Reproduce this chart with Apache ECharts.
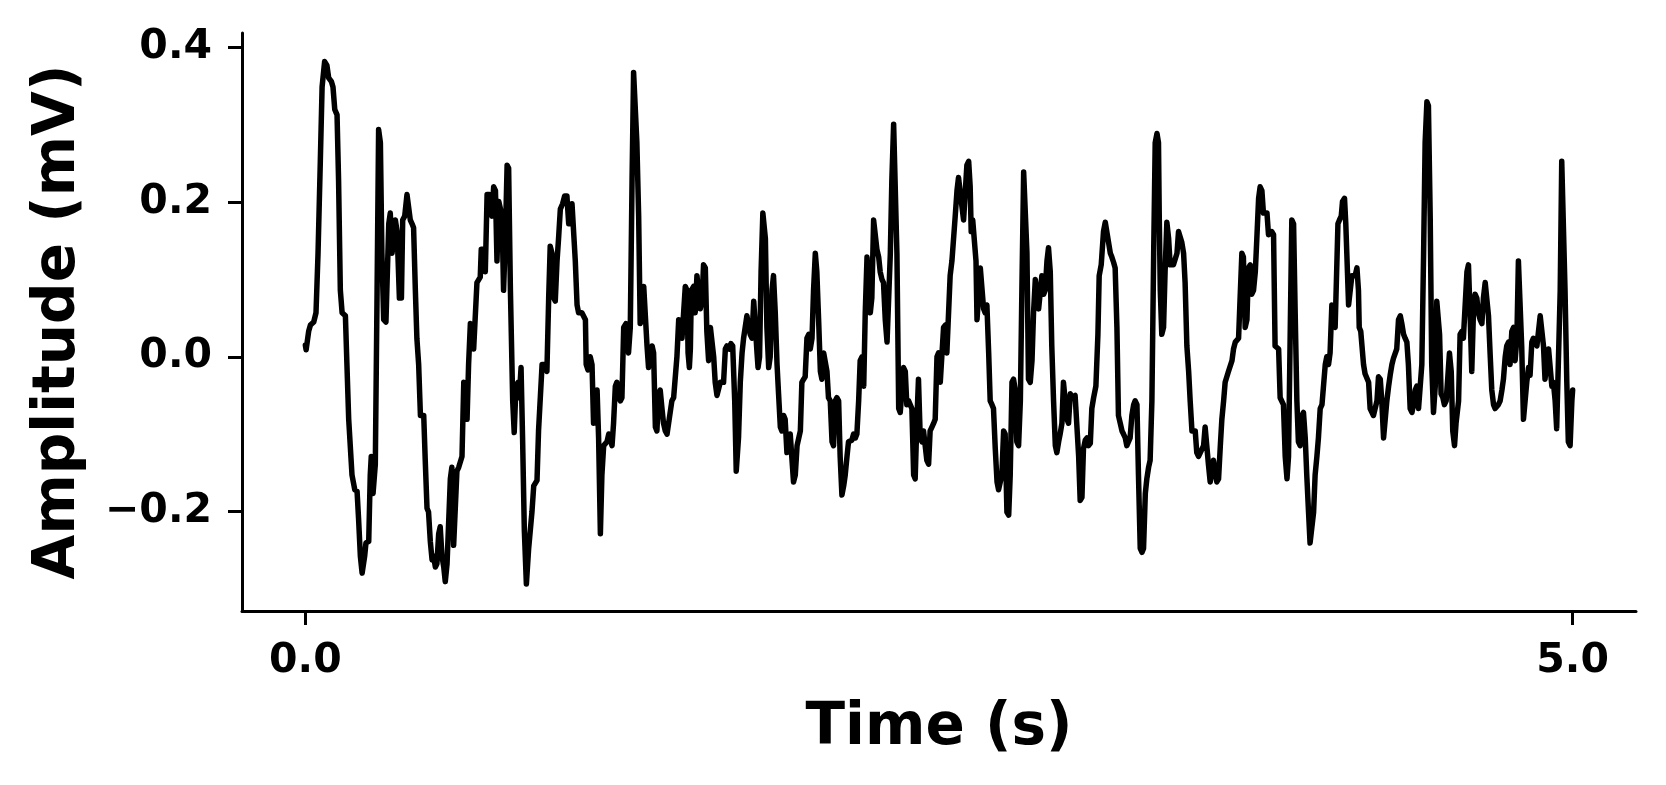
<!DOCTYPE html>
<html>
<head>
<meta charset="utf-8">
<title>Amplitude trace</title>
<script src="https://cdn.jsdelivr.net/npm/echarts@6/dist/echarts.min.js"></script>
<style>
  html, body { margin: 0; padding: 0; background: #fff; }
  #chart { width: 1666px; height: 785px; }
</style>
</head>
<body>
<div id="chart"></div>
<script>
// time (s) and amplitude (mV)
var times = [
  0.000,0.003,0.013,0.020,0.033,0.042,0.050,0.059,0.066,0.076,0.085,0.092,0.103,0.109,0.116,0.125,0.131,0.138,0.145,0.158,
  0.164,0.171,0.184,0.195,0.204,0.210,0.217,0.224,0.234,0.239,0.250,0.256,0.260,0.267,0.276,0.283,0.289,0.296,0.302,0.309,
  0.318,0.329,0.335,0.342,0.348,0.355,0.362,0.371,0.379,0.384,0.392,0.401,0.408,0.414,0.421,0.427,0.434,0.440,0.447,0.454,
  0.467,0.473,0.480,0.486,0.493,0.500,0.506,0.513,0.519,0.526,0.532,0.539,0.546,0.552,0.559,0.565,0.572,0.578,0.585,0.592,
  0.598,0.605,0.611,0.618,0.625,0.631,0.638,0.644,0.651,0.657,0.664,0.671,0.677,0.690,0.694,0.703,0.710,0.717,0.726,0.736,
  0.743,0.750,0.756,0.763,0.769,0.776,0.782,0.789,0.796,0.802,
  0.809,0.818,0.824,0.831,0.839,0.844,0.851,0.857,0.864,0.872,0.881,0.894,0.901,0.914,0.920,0.934,0.944,0.953,0.960,0.966,
  0.973,0.980,0.986,0.993,0.999,1.006,1.015,1.023,1.032,1.039,1.045,1.052,1.058,1.065,1.072,1.078,1.091,1.105,1.108,1.115,
  1.124,1.131,1.137,1.144,1.151,1.157,1.164,1.170,1.177,1.190,1.197,1.210,1.216,1.223,1.229,1.236,1.243,1.249,1.256,1.265,
  1.275,1.282,1.289,1.295,1.302,1.308,1.315,1.321,1.328,1.335,1.341,1.348,1.354,1.361,1.368,1.374,1.381,1.387,1.394,1.400,
  1.407,1.413,1.420,1.427,1.433,1.446,1.453,1.460,1.466,1.473,1.479,1.486,1.492,1.499,1.506,1.510,1.515,1.519,1.523,1.532,
  1.538,1.545,1.552,1.558,1.565,1.571,1.578,1.584,1.591,1.598,1.604,1.611,1.617,1.624,1.630,1.637,1.650,
  1.657,1.663,1.673,1.679,1.686,1.694,1.700,1.709,1.716,1.723,1.729,1.742,1.749,1.755,1.762,1.769,1.775,1.782,1.786,1.792,
  1.798,1.805,1.815,1.821,1.828,1.834,1.841,1.847,1.854,1.861,1.867,1.874,1.880,1.887,1.893,1.900,1.907,1.913,1.920,1.926,
  1.933,1.940,1.953,1.959,1.966,1.972,1.979,1.986,1.992,1.999,2.005,2.012,2.018,2.025,2.032,2.038,2.045,2.051,2.058,2.064,
  2.071,2.078,2.084,2.091,2.097,2.104,2.110,2.117,2.124,2.130,2.137,2.143,2.156,2.163,2.170,2.176,2.183,2.189,2.196,2.203,
  2.209,2.216,2.222,2.229,2.235,2.242,2.249,2.255,2.262,2.268,2.275,2.281,2.288,2.295,2.301,2.308,2.314,2.321,2.327,2.334,
  2.341,2.347,2.354,2.360,2.367,2.373,2.380,2.387,2.393,2.400,2.406,2.413,2.419,2.426,2.433,2.439,2.446,2.452,2.459,2.465,
  2.472,2.479,
  2.485,2.492,2.498,2.505,2.512,2.518,2.525,2.531,2.538,2.544,2.551,2.558,2.564,2.571,2.577,2.584,2.590,2.597,2.604,2.610,
  2.617,2.623,2.627,2.633,2.640,2.646,2.650,2.656,2.663,2.669,2.676,2.682,2.689,2.696,2.702,2.709,2.715,2.722,2.729,2.735,
  2.742,2.748,2.755,2.761,2.768,2.775,2.781,2.788,2.794,2.801,2.807,2.814,2.821,2.827,2.834,2.840,2.847,2.853,2.860,2.867,
  2.873,2.880,2.886,2.893,2.899,2.906,2.913,2.919,2.926,2.932,2.939,2.945,2.952,2.959,2.965,2.972,2.978,2.985,2.991,2.998,
  3.005,3.011,3.018,3.024,3.031,3.037,3.044,3.051,3.057,3.064,3.070,3.077,3.084,3.090,3.097,3.103,3.110,3.119,3.127,3.132,
  3.140,3.149,3.156,3.162,3.169,3.176,3.182,3.189,3.195,3.202,3.208,3.215,3.222,3.228,3.235,3.241,3.248,3.254,3.261,3.268,
  3.274,3.281,3.287,3.294,3.301,
  3.307,3.314,3.320,3.327,3.333,3.340,3.347,3.353,3.360,3.366,3.369,3.373,3.379,3.386,3.392,3.399,3.406,3.412,3.419,3.425,
  3.432,3.439,3.445,3.452,3.458,3.465,3.471,3.478,3.485,3.491,3.498,3.511,3.517,3.524,3.531,3.544,3.550,3.557,3.563,3.570,
  3.577,3.583,3.590,3.596,3.603,3.610,3.616,3.623,3.629,3.642,3.656,3.662,3.669,3.675,3.682,3.688,3.695,3.701,3.708,3.715,
  3.721,3.728,3.734,3.741,3.748,3.754,3.761,3.767,3.774,3.780,3.794,3.800,3.807,3.813,3.820,3.826,3.840,3.846,3.859,3.866,
  3.873,3.879,3.886,3.892,3.899,3.905,3.912,3.918,3.925,3.932,3.938,3.945,3.951,3.958,3.964,3.971,3.978,3.984,3.991,3.997,
  4.004,4.011,4.017,4.024,4.030,4.037,4.043,4.050,4.057,4.063,4.070,4.074,4.080,4.087,4.092,4.100,4.105,4.109,4.116,4.122,
  4.129,
  4.135,4.142,4.149,4.155,4.158,4.164,4.175,4.181,4.188,4.195,4.201,4.208,4.214,4.221,4.228,4.234,4.241,4.247,4.254,4.260,
  4.267,4.274,4.280,4.287,4.293,4.300,4.306,4.313,4.320,4.326,4.333,4.339,4.346,4.352,4.359,4.366,4.372,4.379,4.385,4.392,
  4.398,4.405,4.412,4.418,4.425,4.431,4.438,4.444,4.451,4.458,4.464,4.468,4.475,4.481,4.488,4.494,4.501,4.508,4.514,4.521,
  4.527,4.534,4.540,4.550,4.556,4.563,4.569,4.576,4.583,4.589,4.596,4.602,4.609,4.615,4.622,4.628,4.635,4.642,4.648,4.655,
  4.661,4.668,4.675,4.681,4.688,4.694,4.707,4.714,4.721,4.727,4.734,4.740,4.747,4.753,4.760,4.767,4.773,4.780,4.786,4.793,
  4.799,4.806,4.813,4.819,4.826,4.832,4.839,4.845,4.852,4.859,4.865,4.872,4.878,4.885,4.891,4.898,4.905,4.911,4.918,4.924,
  4.931,4.937,4.944,4.951,4.957,4.964,4.970,4.977,4.983,4.990,4.997,5.000
];
var amps = [
  0.015,0.009,0.033,0.041,0.045,0.057,0.134,0.253,0.349,0.382,0.377,0.361,0.356,0.349,0.320,0.313,0.229,0.086,0.057,0.053,
  -0.010,-0.081,-0.153,-0.172,-0.174,-0.210,-0.258,-0.280,-0.258,-0.241,-0.239,-0.153,-0.129,-0.177,-0.139,0.086,0.294,0.277,0.134,0.048,
  0.045,0.172,0.186,0.134,0.134,0.177,0.162,0.076,0.076,0.177,0.182,0.210,0.210,0.177,0.172,0.167,0.086,0.024,-0.010,-0.076,
  -0.076,-0.134,-0.196,-0.201,-0.239,-0.263,-0.258,-0.272,-0.268,-0.229,-0.220,-0.258,-0.272,-0.291,-0.268,-0.268,-0.158,-0.143,-0.244,-0.244,
  -0.148,-0.143,-0.143,-0.129,-0.033,-0.033,-0.081,-0.010,0.043,0.043,0.010,0.010,0.096,0.103,0.139,0.139,0.110,0.210,0.210,0.182,
  0.220,0.215,0.124,0.201,0.203,0.182,0.086,0.153,0.248,0.244,
  0.086,-0.057,-0.098,-0.038,-0.033,-0.053,-0.014,-0.105,-0.225,-0.294,-0.248,-0.201,-0.167,-0.160,-0.096,-0.010,-0.010,-0.019,0.076,0.143,
  0.134,0.076,0.072,0.124,0.153,0.191,0.198,0.208,0.208,0.172,0.172,0.198,0.198,0.124,0.067,0.057,0.057,0.048,-0.010,-0.017,
  0.000,-0.010,-0.086,-0.086,-0.043,-0.105,-0.229,-0.153,-0.115,-0.110,-0.100,-0.115,-0.086,-0.038,-0.033,-0.053,-0.057,-0.053,0.038,0.043,
  0.005,0.038,0.229,0.368,0.368,0.277,0.182,0.043,0.048,0.091,0.091,0.014,-0.014,-0.014,0.014,0.005,-0.091,-0.096,-0.048,-0.043,
  -0.067,-0.086,-0.096,-0.100,-0.098,-0.057,-0.053,-0.053,0.000,0.048,0.050,0.024,0.026,0.091,0.086,0.005,-0.014,0.010,0.086,0.091,
  0.057,0.105,0.105,0.062,0.072,0.119,0.115,0.033,-0.005,0.038,0.038,0.000,-0.033,-0.050,-0.048,-0.033,-0.033,
  0.010,0.014,0.010,0.017,0.014,-0.057,-0.148,-0.105,-0.033,0.005,0.024,0.053,0.053,0.029,0.024,0.072,0.072,0.005,-0.014,0.000,
  0.110,0.186,0.153,0.038,-0.014,0.000,0.086,0.105,0.057,-0.010,-0.048,-0.091,-0.096,-0.076,-0.081,-0.124,-0.115,-0.100,-0.100,-0.162,
  -0.153,-0.115,-0.096,-0.033,-0.029,-0.026,0.024,0.029,0.010,0.024,0.086,0.134,0.110,0.048,-0.019,-0.029,0.005,0.005,-0.019,-0.053,
  -0.057,-0.110,-0.115,-0.057,-0.053,-0.057,-0.129,-0.179,-0.167,-0.153,-0.129,-0.110,-0.108,-0.100,-0.105,-0.100,-0.057,-0.005,0.000,-0.038,
  0.057,0.129,0.129,0.057,0.076,0.177,0.177,0.139,0.129,0.110,0.100,0.096,0.048,0.019,0.019,0.134,0.229,0.301,0.301,0.134,
  -0.067,-0.072,-0.043,-0.014,-0.019,-0.062,-0.057,-0.057,-0.067,-0.153,-0.158,-0.081,-0.029,-0.105,-0.110,-0.096,-0.096,-0.134,-0.139,-0.096,
  -0.091,-0.086,
  -0.081,0.000,0.005,-0.033,-0.033,0.038,0.041,0.005,0.005,0.105,0.124,0.124,0.182,0.215,0.232,0.232,0.196,0.177,0.177,0.248,
  0.253,0.220,0.162,0.177,0.177,0.124,0.048,0.048,0.115,0.115,0.062,0.057,0.067,0.005,-0.057,-0.062,-0.067,-0.119,-0.162,-0.172,
  -0.172,-0.153,-0.096,-0.100,-0.201,-0.205,-0.153,-0.033,-0.029,-0.043,-0.110,-0.115,-0.057,0.086,0.239,0.239,0.134,-0.029,-0.033,-0.005,
  0.057,0.100,0.100,0.062,0.062,0.105,0.081,0.086,0.124,0.141,0.110,0.014,-0.057,-0.115,-0.124,-0.110,-0.100,-0.086,-0.033,-0.033,
  -0.081,-0.086,-0.048,-0.053,-0.053,-0.050,-0.048,-0.129,-0.186,-0.182,-0.119,-0.108,-0.105,-0.115,-0.112,-0.067,-0.053,-0.038,0.029,0.105,
  0.119,0.162,0.174,0.172,0.148,0.134,0.129,0.122,0.115,0.038,-0.076,-0.086,-0.096,-0.100,-0.105,-0.115,-0.115,-0.105,-0.076,-0.062,
  -0.057,-0.062,-0.153,-0.248,-0.253,
  -0.248,-0.177,-0.158,-0.143,-0.134,-0.057,0.134,0.277,0.289,0.277,0.182,0.086,0.029,0.038,0.110,0.174,0.153,0.119,0.119,0.119,
  0.119,0.134,0.162,0.160,0.148,0.134,0.096,0.014,-0.019,-0.057,-0.096,-0.096,-0.124,-0.129,-0.124,-0.115,-0.091,-0.091,-0.139,-0.162,
  -0.148,-0.134,-0.134,-0.162,-0.158,-0.115,-0.081,-0.057,-0.033,-0.019,-0.005,0.010,0.019,0.019,0.024,0.076,0.134,0.129,0.038,0.048,
  0.115,0.119,0.081,0.086,0.110,0.153,0.205,0.220,0.215,0.186,0.186,0.158,0.158,0.162,0.158,0.014,0.010,-0.053,-0.062,-0.129,
  -0.158,-0.129,0.038,0.177,0.172,0.062,-0.057,-0.110,-0.115,-0.076,-0.072,-0.105,-0.153,-0.201,-0.241,-0.239,-0.201,-0.153,-0.129,-0.105,
  -0.067,-0.062,-0.062,-0.010,0.000,-0.010,0.005,0.067,0.067,0.038,0.038,0.172,0.177,0.182,0.201,0.205,0.172,0.134,0.067,0.069,
  0.105,
  0.103,0.105,0.115,0.086,0.038,0.033,-0.010,-0.022,-0.024,-0.033,-0.067,-0.072,-0.076,-0.076,-0.057,-0.026,-0.029,-0.057,-0.105,-0.105,
  -0.057,-0.038,-0.024,-0.010,-0.002,0.000,0.010,0.048,0.053,0.043,0.029,0.024,0.019,-0.010,-0.067,-0.072,-0.062,-0.043,-0.038,-0.067,
  -0.067,-0.010,0.134,0.277,0.330,0.325,0.182,-0.010,-0.072,-0.038,0.072,0.072,0.029,-0.048,-0.053,-0.062,-0.057,-0.024,0.005,-0.019,
  -0.096,-0.115,-0.086,-0.057,0.029,0.033,0.024,0.024,0.110,0.119,0.048,-0.019,0.062,0.081,0.076,0.057,0.048,0.043,0.076,0.096,
  0.098,0.053,0.000,-0.043,-0.062,-0.067,-0.062,-0.057,-0.043,-0.029,0.000,0.014,0.019,-0.010,0.033,0.038,-0.005,0.024,0.124,0.124,
  0.014,-0.081,-0.081,-0.033,-0.014,-0.024,0.019,0.024,0.024,0.014,0.014,0.053,0.053,0.014,-0.029,-0.029,0.010,0.010,-0.038,-0.033,
  -0.057,-0.093,-0.093,0.086,0.253,0.253,0.086,-0.033,-0.110,-0.115,-0.057,-0.043
];
var xTicks = [0, 5];
var yTicks = [-0.2, 0, 0.2, 0.4];

var series = [];
for (var i = 0; i < times.length; i++) {
  series.push([times[i], amps[i]]);
}

var font = 'DejaVu Sans';
var myChart = echarts.init(document.getElementById('chart'), null, {renderer: 'canvas'});

var option = {
  backgroundColor: '#ffffff',
  animation: false,
  grid: { left: 242, right: 30, top: 33, bottom: 174, containLabel: false },
  xAxis: {
    type: 'value',
    min: -0.25,
    max: 5.25,
    name: 'Time (s)',
    nameLocation: 'middle',
    nameGap: 89,
    nameTextStyle: { fontFamily: font, fontWeight: 'bold', fontSize: 58, color: '#000' },
    axisLine: { show: true, onZero: false, lineStyle: { color: '#000', width: 3 } },
    axisTick: { show: true, length: 14, lineStyle: { color: '#000', width: 3 }, customValues: xTicks },
    axisLabel: {
      customValues: xTicks, margin: 30,
      fontFamily: font, fontWeight: 'bold', fontSize: 41, color: '#000',
      formatter: function (v) { return v.toFixed(1); }
    },
    splitLine: { show: false }
  },
  yAxis: {
    type: 'value',
    min: -0.329,
    max: 0.419,
    name: 'Amplitude (mV)',
    nameLocation: 'middle',
    nameGap: 154,
    nameTextStyle: { fontFamily: font, fontWeight: 'bold', fontSize: 58, color: '#000' },
    axisLine: { show: true, onZero: false, lineStyle: { color: '#000', width: 3 } },
    axisTick: { show: true, length: 14, lineStyle: { color: '#000', width: 3 }, customValues: yTicks },
    axisLabel: {
      customValues: yTicks, margin: 30,
      fontFamily: font, fontWeight: 'bold', fontSize: 41, color: '#000',
      formatter: function (v) {
        var s = Math.abs(v).toFixed(1);
        return v < 0 ? '\u2212' + s : s;
      }
    },
    splitLine: { show: false }
  },
  series: [
    {
      name: 'signal',
      type: 'line',
      data: series,
      showSymbol: false,
      symbol: 'none',
      lineStyle: { color: '#000', width: 5.5, join: 'round', cap: 'round' }
    }
  ]
};

myChart.setOption(option);
</script>
</body>
</html>
